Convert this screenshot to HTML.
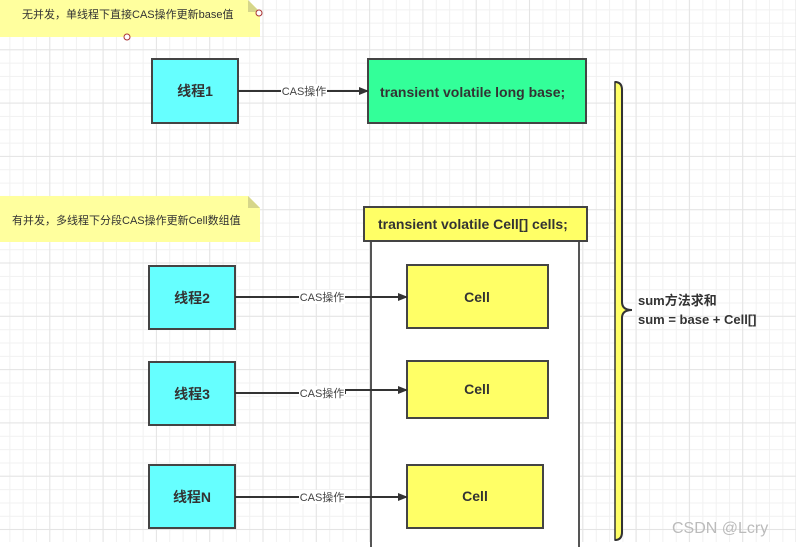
<!DOCTYPE html>
<html><head><meta charset="utf-8"><style>
html,body{margin:0;padding:0;}
body{width:796px;height:547px;overflow:hidden;background:#fff;position:relative;font-family:"Liberation Sans","Noto Sans CJK SC",sans-serif;}
.grid{position:absolute;left:0;top:0;width:796px;height:542px;
background-image:linear-gradient(#e4e4e4 1px,transparent 1px),linear-gradient(90deg,#e4e4e4 1px,transparent 1px),linear-gradient(#f1f1f1 1px,transparent 1px),linear-gradient(90deg,#f1f1f1 1px,transparent 1px);
background-size:53.3px 53.3px,53.3px 53.3px,13.33px 13.33px,13.33px 13.33px;background-position:-4px -4px,-4px -4px,-4px -4px,-4px -4px;}
</style></head><body>
<div class="grid"></div>
<svg width="796" height="547" style="position:absolute;left:0;top:0" font-family="Liberation Sans, Noto Sans CJK SC, sans-serif">
<defs><marker id="a" markerWidth="10" markerHeight="8" refX="9" refY="4" orient="auto" markerUnits="userSpaceOnUse"><path d="M0,0 L10,4 L0,8 Z" fill="#333"/></marker></defs>
<path d="M0,0 H248 L260,12 V37 H0 Z" fill="#ffff9e"/>
<path d="M248,0 V12 H260 Z" fill="#d6d68a"/>
<text x="22" y="18" font-size="11" fill="#333">无并发，单线程下直接CAS操作更新base值</text>
<circle cx="259" cy="13" r="3" fill="#fff" stroke="#a33" stroke-width="1"/>
<circle cx="127" cy="37" r="3" fill="#fff" stroke="#a33" stroke-width="1"/>
<path d="M0,196 H248 L260,208 V242 H0 Z" fill="#ffff9e"/>
<path d="M248,196 V208 H260 Z" fill="#d6d68a"/>
<text x="12" y="224" font-size="11" fill="#333">有并发，多线程下分段CAS操作更新Cell数组值</text>
<rect x="371" y="241" width="208" height="310" fill="#fff"/>
<line x1="371" y1="241" x2="371" y2="547" stroke="#555" stroke-width="2"/>
<line x1="579" y1="241" x2="579" y2="547" stroke="#555" stroke-width="2"/>
<rect x="364" y="207" width="223" height="34" fill="#ffff66" stroke="#444" stroke-width="2"/>
<text x="378" y="229" font-size="14" font-weight="bold" fill="#333">transient volatile Cell[] cells;</text>
<g stroke="#444" stroke-width="2">
<rect x="152" y="59" width="86" height="64" fill="#66ffff"/>
<rect x="368" y="59" width="218" height="64" fill="#33ff99"/>
<rect x="149" y="266" width="86" height="63" fill="#66ffff"/>
<rect x="149" y="362" width="86" height="63" fill="#66ffff"/>
<rect x="149" y="465" width="86" height="63" fill="#66ffff"/>
<rect x="407" y="265" width="141" height="63" fill="#ffff66"/>
<rect x="407" y="361" width="141" height="57" fill="#ffff66"/>
<rect x="407" y="465" width="136" height="63" fill="#ffff66"/>
</g>
<g font-size="14" font-weight="bold" fill="#333" text-anchor="middle">
<text x="195" y="96">线程1</text>
<text x="192" y="303">线程2</text>
<text x="192" y="399">线程3</text>
<text x="192" y="502">线程N</text>
<text x="477" y="302">Cell</text>
<text x="477" y="394">Cell</text>
<text x="475" y="501">Cell</text>
</g>
<text x="380" y="97" font-size="14" font-weight="bold" fill="#333">transient volatile long base;</text>
<g stroke="#333" stroke-width="2" fill="none">
<line x1="238" y1="91" x2="368" y2="91" marker-end="url(#a)"/>
<line x1="235" y1="297" x2="407" y2="297" marker-end="url(#a)"/>
<polyline points="235,393 345,393 345,390 407,390" marker-end="url(#a)"/>
<line x1="235" y1="497" x2="407" y2="497" marker-end="url(#a)"/>
</g>
<g font-size="11" fill="#444" text-anchor="middle">
<rect x="281" y="84" width="46" height="14" fill="#fff"/><text x="304" y="95">CAS操作</text>
<rect x="299" y="290" width="46" height="14" fill="#fff"/><text x="322" y="301">CAS操作</text>
<rect x="299" y="386" width="46" height="14" fill="#fff"/><text x="322" y="397">CAS操作</text>
<rect x="299" y="490" width="46" height="14" fill="#fff"/><text x="322" y="501">CAS操作</text>
</g>
<path d="M615,82 Q622,82 622,90 V302 Q622,310 632,310 Q622,310 622,318 V532 Q622,540 615,540 Z" fill="#ffff66" stroke="#333" stroke-width="1.5"/>
<path d="M615,82 Q622,82 622,90 V302 Q622,310 632,310 Q622,310 622,318 V532 Q622,540 615,540" fill="none" stroke="#333" stroke-width="2"/>
<text x="638" y="305" font-size="13" font-weight="bold" fill="#333">sum方法求和</text>
<text x="638" y="324" font-size="13" font-weight="bold" fill="#333">sum = base + Cell[]</text>
<text x="672" y="533" font-size="16" fill="#bbb">CSDN @Lcry</text>
</svg>
</body></html>
